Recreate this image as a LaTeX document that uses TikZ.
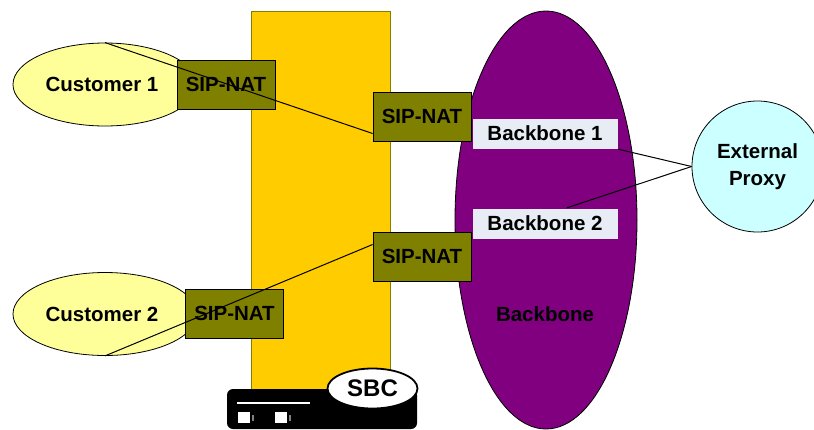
\documentclass[tikz,border=0pt]{standalone}
\usepackage{fontspec}
\setmainfont{Liberation Sans}
\usetikzlibrary{positioning}
\usetikzlibrary{calc}
\usetikzlibrary{shapes.geometric}
\definecolor{natcolor}{HTML}{808000}
\definecolor{custcolor}{HTML}{FFFF99}
\definecolor{sbccolor}{HTML}{FFCC00}
\definecolor{bonecolor}{HTML}{800080}
\definecolor{proxycolor}{HTML}{CCFFFF}
\definecolor{portcolor}{HTML}{E8EDF5}
\tikzset{
  every node/.style={font=\bfseries\fontsize{20.5}{24}\selectfont, inner sep=0pt, align=center},
  nat/.style={draw, rectangle, fill=natcolor, minimum width=98pt, minimum height=49pt, line width=0.8pt},
  cust/.style={draw, ellipse, fill=custcolor, minimum width=184pt, minimum height=83pt, line width=0.8pt},
  port/.style={draw=bonecolor, rectangle, fill=portcolor, minimum width=146pt, minimum height=31pt},
  jack/.style={rectangle, fill=white, minimum width=12pt, minimum height=11pt},
  pin/.style={rectangle, fill=gray, minimum width=1.5pt, minimum height=6pt},
  link/.style={line width=1pt}
}

\begin{document}
\begin{tikzpicture}[x=1pt,y=-1pt]
  \useasboundingbox (0,0) rectangle (814,429);
  \node[draw=natcolor, rectangle, fill=sbccolor, minimum width=139pt, minimum height=384pt, line width=0.8pt] (sbc) at (320.5,203) {};
  \node[draw, ellipse, fill=bonecolor, minimum width=182pt, minimum height=418pt, line width=0.8pt] (bone) at (546,220) {};
  \node[draw, ellipse, fill=proxycolor, minimum width=131pt, minimum height=131pt, line width=0.8pt] (proxy) at (757.5,166.5) {External\\[3pt]Proxy};

  \node[cust] (c1) at (105,84.5) {};
  \node[cust] (c2) at (105,314) {};
  \node[nat] (n1) at (226,84.5) {SIP-NAT};
  \node[nat] (n2) at (234.5,313.5) {SIP-NAT};
  \node[nat] (n3) at (422,116.5) {SIP-NAT};
  \node[nat] (n4) at (422,256.5) {SIP-NAT};
  \node[port] (b1) at (545,133.5) {Backbone 1};
  \node[port] (b2) at (545,223.5) {Backbone 2};
  \node at (c1) [xshift=-3pt] (t1) {Customer 1};
  \node at (c2) [xshift=-3pt] (t2) {Customer 2};
  \node (bt) at (545,314) {Backbone};

  \path[link] (c1.north) edge ([yshift=-17pt]n3.west);
  \path[link] (c2.south) edge ([yshift=12pt]n4.west);
  \path[link] (b1.south east) edge (proxy.west);
  \path[link] ([xshift=22pt]b2.north) edge (proxy.west);

  % the box at the bottom
  \node[rectangle, fill=black, rounded corners=6pt, minimum width=190pt, minimum height=40pt] (box) at (322,409) {};
  \node[draw, ellipse, fill=white, line width=1.8pt, minimum width=90pt, minimum height=40pt, font=\bfseries\fontsize{24}{24}\selectfont] (sbcl) at (372.5,388.5) {SBC};
  \node[rectangle, fill=white, minimum width=73pt, minimum height=2pt] (bar) at (273.5,403) {};
  \node[jack] (s1) at (244,417.5) {};
  \node[jack] (s2) at (281,417.5) {};
  \node[pin, right=2pt of s1] (p1) {};
  \node[pin, right=2pt of s2] (p2) {};
\end{tikzpicture}
\end{document}
